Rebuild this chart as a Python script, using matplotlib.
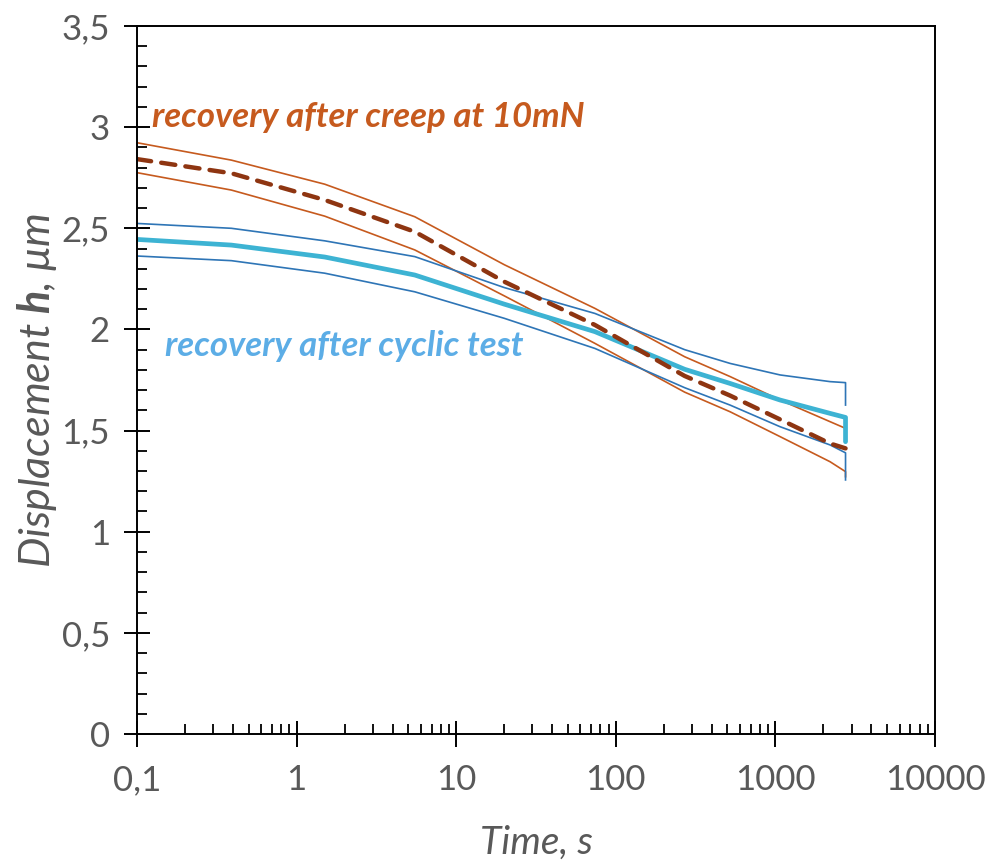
import matplotlib
matplotlib.use("Agg")
import matplotlib.pyplot as plt
from matplotlib.ticker import FixedLocator, LogLocator, MultipleLocator, FuncFormatter, NullFormatter

plt.rcParams['font.family'] = ['Lato', 'DejaVu Sans']
plt.rcParams['mathtext.fontset'] = 'custom'
plt.rcParams['mathtext.bf'] = 'Lato:italic:bold'
plt.rcParams['mathtext.rm'] = 'Lato:italic'
plt.rcParams['mathtext.it'] = 'Lato:italic'

# Time (s); last point repeated for the final drop of each curve
t = [0.1, 0.39, 1.5, 5.5, 20, 74, 270, 520, 1070, 2200, 2750, 2750]
t_mean = [0.1, 0.39, 1.5, 5.5, 20, 74, 270, 520, 1070, 2200, 2750]

# Recovery after creep at 10 mN (upper / mean / lower), µm
creep_upper = [2.923, 2.837, 2.718, 2.557, 2.32, 2.104, 1.865, 1.767, 1.651, 1.544, 1.511, 1.495]
creep_mean = [2.842, 2.772, 2.640, 2.483, 2.236, 2.022, 1.77, 1.673, 1.555, 1.436, 1.412]
creep_lower = [2.775, 2.689, 2.56, 2.393, 2.166, 1.931, 1.69, 1.593, 1.470, 1.346, 1.297, 1.272]

# Recovery after cyclic test (upper / mean / lower), µm
cyc_upper = [2.524, 2.500, 2.438, 2.360, 2.207, 2.079, 1.90, 1.832, 1.775, 1.742, 1.737, 1.626]
cyc_mean = [2.445, 2.417, 2.358, 2.269, 2.125, 1.989, 1.803, 1.733, 1.651, 1.585, 1.565, 1.445]
cyc_lower = [2.363, 2.340, 2.278, 2.186, 2.055, 1.906, 1.712, 1.626, 1.519, 1.429, 1.390, 1.256]

x_ticks = [0.1, 1, 10, 100, 1000, 10000]
y_ticks = [0, 0.5, 1, 1.5, 2, 2.5, 3, 3.5]

c_red = '#C65A1E'
c_red_dark = '#8E3511'
c_teal = '#3DB3D3'
c_blue = '#2E75B6'
c_gray = '#595959'

fig = plt.figure(figsize=(9.93, 8.67), dpi=100)
ax = fig.add_axes([0.138, 0.1534, 0.8036, 0.8166])

ax.plot(t, creep_upper, color=c_red, lw=1.2)
ax.plot(t, creep_lower, color=c_red, lw=1.2)
ax.plot(t, cyc_upper, color=c_blue, lw=1.2)
ax.plot(t, cyc_lower, color=c_blue, lw=1.2)
ax.plot(t, cyc_mean, color=c_teal, lw=3.4, solid_capstyle='round', solid_joinstyle='round')
ax.plot(t_mean, creep_mean, color=c_red_dark, lw=3.2, dashes=(3.2, 2.3), dash_capstyle='round')

ax.set_xscale('log')
ax.set_xlim(0.1, 10000)
ax.set_ylim(0, 3.5)

ax.xaxis.set_major_locator(FixedLocator(x_ticks))
ax.xaxis.set_minor_locator(LogLocator(base=10, subs=[2, 3, 4, 5, 6, 7, 8, 9], numticks=20))
ax.xaxis.set_minor_formatter(NullFormatter())

def fmt_num(v, pos=None):
    if abs(v - round(v)) < 1e-9:
        return str(int(round(v)))
    return ('%g' % v).replace('.', ',')

ax.xaxis.set_major_formatter(FuncFormatter(fmt_num))
ax.yaxis.set_major_locator(FixedLocator(y_ticks))
ax.yaxis.set_major_formatter(FuncFormatter(fmt_num))
ax.yaxis.set_minor_locator(MultipleLocator(0.1))

for s in ax.spines.values():
    s.set_linewidth(1.4)
    s.set_color('black')

ax.tick_params(which='major', direction='inout', length=19, width=1.4, color='black',
               labelsize=25, labelcolor=c_gray, top=False, right=False)
ax.tick_params(axis='x', which='major', pad=12)
ax.tick_params(axis='y', which='major', pad=10)
ax.tick_params(which='minor', direction='in', length=7, width=1.3, color='black',
               top=False, right=False)

ax.set_xlabel('Time, s', fontsize=28, color=c_gray, style='italic')
ax.xaxis.set_label_coords(0.5, -0.128)
ax.set_ylabel(r'Displacement $\mathbf{h}$, μm', fontsize=31, color=c_gray, style='italic')
ax.yaxis.set_label_coords(-0.098, 0.485)

ax.text(0.124, 3.05, 'recovery after creep at 10mN', color=c_red, fontsize=25,
        fontweight='bold', style='italic', va='center', ha='left')
ax.text(0.150, 1.92, 'recovery after cyclic test', color='#5CADE6', fontsize=25,
        fontweight='bold', style='italic', va='center', ha='left')

fig.savefig('out.png', dpi=100)
